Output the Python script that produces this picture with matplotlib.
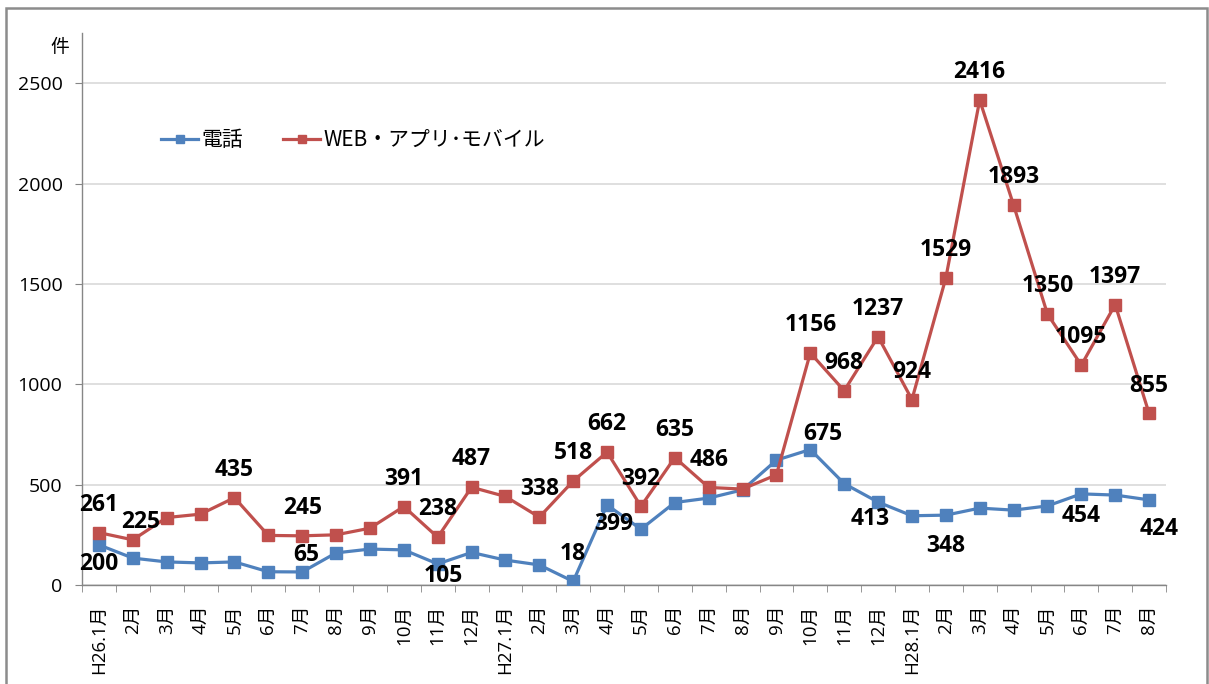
import matplotlib
matplotlib.use('Agg')
import matplotlib.pyplot as plt
from matplotlib.patches import Rectangle

plt.rcParams['font.family'] = ['Open Sans', 'Noto Sans CJK JP', 'DejaVu Sans']

# 月ラベル
months = ['H26.1月', '2月', '3月', '4月', '5月', '6月', '7月', '8月', '9月', '10月', '11月', '12月',
          'H27.1月', '2月', '3月', '4月', '5月', '6月', '7月', '8月', '9月', '10月', '11月', '12月',
          'H28.1月', '2月', '3月', '4月', '5月', '6月', '7月', '8月']

# 電話
phone = [200, 134, 115, 110, 115, 66, 65, 160, 179, 175, 105, 162,
         124, 100, 18, 399, 278, 411, 433, 474, 622, 675, 505, 413,
         345, 348, 383, 373, 394, 454, 448, 424]

# WEB・アプリ・モバイル
web = [261, 225, 336, 353, 435, 247, 245, 250, 283, 391, 238, 487,
       441, 338, 518, 662, 392, 635, 486, 478, 549, 1156, 968, 1237,
       924, 1529, 2416, 1893, 1350, 1095, 1397, 855]

# 値ラベルを出す点
phone_labeled = [0, 6, 10, 14, 15, 21, 23, 25, 29, 31]
web_labeled = [0, 1, 4, 6, 9, 10, 11, 13, 14, 15, 16, 17, 18,
               21, 22, 23, 24, 25, 26, 27, 28, 29, 30, 31]

# ラベル位置 (points)
phone_off = {0: (0, -14), 6: (3, 12), 10: (4, -9), 14: (0, 20), 15: (5, -14),
             21: (9, 11), 23: (-6, -12), 25: (0, -22), 29: (0, -16), 31: (7, -21)}
web_off = {1: (6, 13)}

blue = '#4F81BD'
red = '#C0504D'

fig = plt.figure(figsize=(12.09, 6.84), dpi=100)
ax = fig.add_axes([82/1209, 1 - 585/684, (1166-82)/1209, (585-33)/684])

x = list(range(len(months)))
ax.plot(x, phone, color=blue, lw=2.3, marker='s', ms=8.5, label='電話', zorder=3)
ax.plot(x, web, color=red, lw=2.3, marker='s', ms=8.5, label='WEB・アプリ･モバイル', zorder=4)

for i in phone_labeled:
    dx, dy = phone_off.get(i, (0, -14))
    ax.annotate(str(phone[i]), (i, phone[i]), xytext=(dx, dy), textcoords='offset points',
                ha='center', va='center', fontsize=16.5, fontweight='bold', zorder=5)
for i in web_labeled:
    dx, dy = web_off.get(i, (0, 20))
    ax.annotate(str(web[i]), (i, web[i]), xytext=(dx, dy), textcoords='offset points',
                ha='center', va='center', fontsize=16.5, fontweight='bold', zorder=5)

ax.set_xlim(-0.5, len(months) - 0.5)
ax.set_ylim(0, 2750)
ax.set_yticks([0, 500, 1000, 1500, 2000, 2500])
ax.set_xticks(x)
ax.set_xticklabels(months, rotation=90, fontsize=13.5)
ax.set_xticks([i - 0.5 for i in range(len(months) + 1)], minor=True)
ax.tick_params(axis='x', which='major', length=0, pad=14)
ax.tick_params(axis='x', which='minor', length=5, color='#868686')
ax.tick_params(axis='y', length=5, color='#868686', pad=9, labelsize=14)

ax.grid(axis='y', color='#d9d9d9', lw=1.2)
ax.set_axisbelow(True)
for s in ['top', 'right']:
    ax.spines[s].set_visible(False)
for s in ['left', 'bottom']:
    ax.spines[s].set_color('#868686')
    ax.spines[s].set_linewidth(1)

ax.legend(loc='center', bbox_to_anchor=(0.25, 0.806), ncol=2, frameon=False,
          prop={'family': ['Noto Sans CJK JP', 'DejaVu Sans'], 'size': 15},
          handlelength=1.8, handletextpad=0.15, columnspacing=1.9,
          markerscale=0.75)

fig.text(60/1209, 1 - 48/684, '件', ha='center', va='center', fontsize=13.5,
         family=['Noto Sans CJK JP', 'DejaVu Sans'])

fig.patches.append(Rectangle((6/1209, -0.1), (1207-6)/1209, 1.1 - 8/684,
                             transform=fig.transFigure, fill=False,
                             edgecolor='#8c8c8c', lw=1.8))

plt.savefig('out.png', dpi=100)
